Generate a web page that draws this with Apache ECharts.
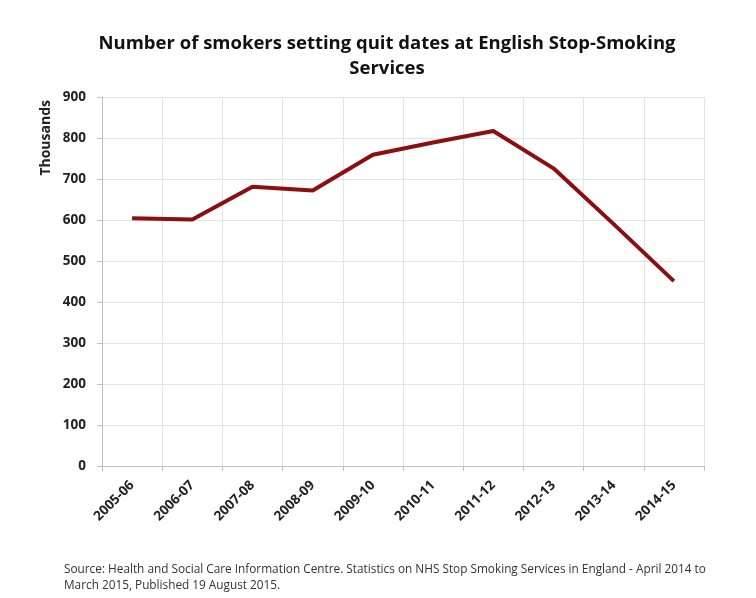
<!DOCTYPE html>
<html>
<head>
<meta charset="utf-8">
<script src="https://cdn.jsdelivr.net/npm/echarts@6/dist/echarts.min.js"></script>
<style>html,body{margin:0;padding:0;background:#fff}#c{width:756px;height:598px}</style>
</head>
<body>
<div id="c"></div>
<script>
const categories = ['2005-06','2006-07','2007-08','2008-09','2009-10','2010-11','2011-12','2012-13','2013-14','2014-15'];
const smokers = [604, 601, 681, 672, 759, 789, 817, 726, 590, 451];
const yTicks = {min: 0, max: 900, interval: 100};
const titleText = 'Number of smokers setting quit dates at English Stop-Smoking\nServices';
const yName = 'Thousands';
const sourceLines = ['Source: Health and Social Care Information Centre. Statistics on NHS Stop Smoking Services in England - April 2014 to', 'March 2015, Published 19 August 2015.'];

const chart = echarts.init(document.getElementById('c'));
const font = 'Open Sans, Noto Sans, sans-serif';
chart.setOption({
  animation: false,
  title: {
    text: titleText,
    left: 382, top: 26, textAlign: 'center',
    textStyle: {fontFamily: font, fontSize: 18.5, fontWeight: 'bold', color: '#111', lineHeight: 25}
  },
  grid: {left: 102, right: 52, top: 97, bottom: 132},
  xAxis: {
    type: 'category', data: categories, boundaryGap: true,
    axisLine: {lineStyle: {color: '#bfbfbf', width: 1}},
    axisTick: {show: true, length: 5, lineStyle: {color: '#bfbfbf'}},
    splitLine: {show: true, lineStyle: {color: '#e3e3e3'}},
    axisLabel: {rotate: 45, fontFamily: font, fontSize: 13.5, fontWeight: 'bold', color: '#222', margin: 17, interval: 0}
  },
  yAxis: {
    type: 'value', min: yTicks.min, max: yTicks.max, interval: yTicks.interval,
    axisLine: {show: true, lineStyle: {color: '#bfbfbf'}},
    axisTick: {show: true, length: 5, lineStyle: {color: '#bfbfbf'}},
    splitLine: {lineStyle: {color: '#e3e3e3'}},
    axisLabel: {fontFamily: font, fontSize: 13.5, fontWeight: 'bold', color: '#222', margin: 16}
  },
  graphic: [
    {type: 'text', left: 39, top: 100, rotation: Math.PI/2, style: {text: yName, fontFamily: font, fontSize: 14, fontWeight: 'bold', fill: '#222'}},
    {type: 'text', left: 64, top: 562, style: {text: sourceLines.join('\n'), fontFamily: font, fontSize: 11.8, fill: '#333', lineHeight: 16}}
  ],
  series: [{
    type: 'line', data: smokers, showSymbol: false, symbol: 'none',
    lineStyle: {color: '#8b0f0f', width: 4}
  }]
});
</script>
</body>
</html>
